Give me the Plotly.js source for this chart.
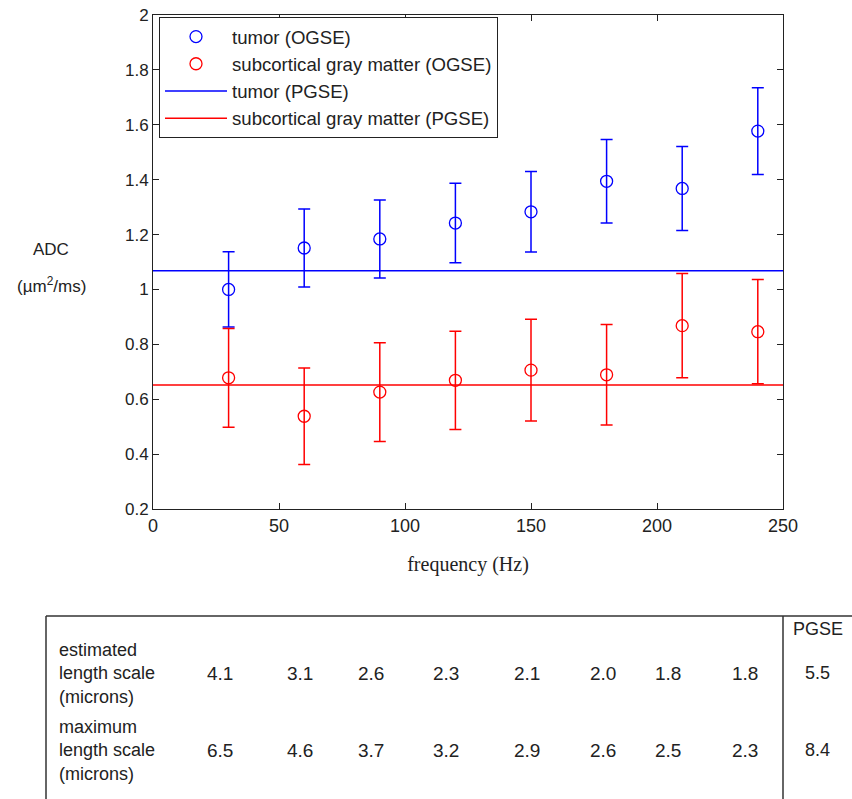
<!DOCTYPE html>
<html>
<head>
<meta charset="utf-8">
<script src="https://cdn.plot.ly/plotly-3.0.1.min.js"></script>
<style>
  html, body { margin: 0; padding: 0; background: #fff; }
  #chart { width: 852px; height: 799px; }
</style>
</head>
<body>
<div id="chart"></div>
<script>
// ---- data ----
const frequency = [30, 60, 90, 120, 150, 180, 210, 240];
const tumorADC  = [1.000, 1.151, 1.184, 1.242, 1.283, 1.394, 1.368, 1.577];
const tumorErr  = [0.137, 0.142, 0.142, 0.145, 0.147, 0.152, 0.153, 0.158];
const grayADC   = [0.678, 0.538, 0.626, 0.669, 0.706, 0.689, 0.868, 0.846];
const grayErr   = [0.180, 0.176, 0.180, 0.179, 0.185, 0.183, 0.190, 0.190];
const tumorPGSE = 1.068;
const grayPGSE  = 0.652;
const xRange = [0, 250];
const yRange = [0.2, 2];
const xTicks = [0, 50, 100, 150, 200, 250];
const yTicks = [0.2, 0.4, 0.6, 0.8, 1, 1.2, 1.4, 1.6, 1.8, 2];
const yTickText = ['0.2', '0.4', '0.6', '0.8', '1', '1.2', '1.4', '1.6', '1.8', '2'];
const seriesNames = ['tumor (OGSE)', 'subcortical gray matter (OGSE)', 'tumor (PGSE)', 'subcortical gray matter (PGSE)'];

// table under the chart
const estimatedLength = [4.1, 3.1, 2.6, 2.3, 2.1, 2.0, 1.8, 1.8];
const maximumLength   = [6.5, 4.6, 3.7, 3.2, 2.9, 2.6, 2.5, 2.3];
const pgseEstimated = 5.5;
const pgseMaximum = 8.4;
const rowLabels = ['estimated<br>length scale<br>(microns)', 'maximum<br>length scale<br>(microns)'];
const pgseHeader = 'PGSE';

// ---- layout geometry (pixels) ----
const W = 852, H = 799;
const L = 153, R = 783, T = 15, B = 509;
const px = v => (v - L) / (R - L);
const py = v => (B - v) / (B - T);
const colX = [220, 300, 371, 446, 527, 603, 668, 745];
const pgseColX = 817;
const rowY = [673, 750];

const BLUE = 'rgb(0,0,255)';
const RED = 'rgb(255,0,0)';
const INK = '#222';
const SANS = 'Liberation Sans, Arial, sans-serif';

const traces = [
  {
    x: frequency, y: tumorADC, name: seriesNames[0], type: 'scatter', mode: 'markers',
    marker: { symbol: 'circle-open', size: 12, color: BLUE, line: { width: 1.3, color: BLUE } },
    error_y: { type: 'data', array: tumorErr, visible: true, color: BLUE, thickness: 1.5, width: 6 }
  },
  {
    x: frequency, y: grayADC, name: seriesNames[1], type: 'scatter', mode: 'markers',
    marker: { symbol: 'circle-open', size: 12, color: RED, line: { width: 1.3, color: RED } },
    error_y: { type: 'data', array: grayErr, visible: true, color: RED, thickness: 1.5, width: 6 }
  },
  {
    x: xRange, y: [tumorPGSE, tumorPGSE], name: seriesNames[2], type: 'scatter', mode: 'lines',
    line: { color: BLUE, width: 1.5 }
  },
  {
    x: xRange, y: [grayPGSE, grayPGSE], name: seriesNames[3], type: 'scatter', mode: 'lines',
    line: { color: RED, width: 1.5 }
  }
];

const annotations = [];
// y-axis label (horizontal, two lines)
annotations.push({ xref: 'paper', yref: 'paper', x: px(51), y: py(249), xanchor: 'center', yanchor: 'middle',
  text: 'ADC', showarrow: false, font: { family: SANS, size: 17, color: INK } });
annotations.push({ xref: 'paper', yref: 'paper', x: px(52), y: py(285), xanchor: 'center', yanchor: 'middle',
  text: '(µm<sup>2</sup>/ms)', showarrow: false, font: { family: SANS, size: 17, color: INK } });

// table
rowLabels.forEach((t, i) => {
  annotations.push({ xref: 'paper', yref: 'paper', x: px(57), y: py(rowY[i]), xanchor: 'left', yanchor: 'middle',
    align: 'left', text: t, showarrow: false, font: { family: SANS, size: 18, color: INK } });
});
[estimatedLength, maximumLength].forEach((arr, i) => {
  arr.forEach((v, j) => {
    annotations.push({ xref: 'paper', yref: 'paper', x: px(colX[j]), y: py(rowY[i]), xanchor: 'center', yanchor: 'middle',
      text: v.toFixed(1), showarrow: false, font: { family: SANS, size: 19, color: INK } });
  });
});
[pgseEstimated, pgseMaximum].forEach((v, i) => {
  annotations.push({ xref: 'paper', yref: 'paper', x: px(pgseColX), y: py(rowY[i]), xanchor: 'center', yanchor: 'middle',
    text: v.toFixed(1), showarrow: false, font: { family: SANS, size: 18, color: INK } });
});
annotations.push({ xref: 'paper', yref: 'paper', x: px(818), y: py(629), xanchor: 'center', yanchor: 'middle',
  text: pgseHeader, showarrow: false, font: { family: SANS, size: 18, color: INK } });

const lineStyle = { color: '#333', width: 1.5 };
const shapes = [
  { type: 'line', xref: 'paper', yref: 'paper', x0: px(46), x1: px(W + 5), y0: py(616), y1: py(616), line: lineStyle },
  { type: 'line', xref: 'paper', yref: 'paper', x0: px(46), x1: px(46), y0: py(616), y1: py(H + 5), line: lineStyle },
  { type: 'line', xref: 'paper', yref: 'paper', x0: px(783), x1: px(783), y0: py(616), y1: py(H + 5), line: lineStyle }
];

const layout = {
  width: W, height: H,
  margin: { l: L, r: W - R, t: T, b: H - B, pad: 0 },
  paper_bgcolor: '#fff', plot_bgcolor: '#fff',
  showlegend: true,
  legend: {
    x: px(159), y: py(17), xanchor: 'left', yanchor: 'top',
    bgcolor: '#fff', bordercolor: INK, borderwidth: 1,
    font: { family: SANS, size: 18.6, color: INK },
    itemwidth: 62, traceorder: 'normal'
  },
  xaxis: {
    range: xRange, tickvals: xTicks, ticktext: xTicks.map(String),
    ticks: 'inside', ticklen: 6, tickwidth: 1, tickcolor: INK,
    showline: true, linecolor: INK, linewidth: 1, mirror: 'ticks',
    showgrid: false, zeroline: false,
    tickfont: { family: SANS, size: 18, color: INK },
    title: { text: 'frequency (Hz)', standoff: 22,
      font: { family: 'Liberation Serif, Times New Roman, serif', size: 20, color: INK } },
    automargin: false
  },
  yaxis: {
    range: yRange, tickvals: yTicks, ticktext: yTickText,
    ticks: 'inside', ticklen: 6, tickwidth: 1, tickcolor: INK,
    showline: true, linecolor: INK, linewidth: 1, mirror: 'ticks',
    showgrid: false, zeroline: false,
    tickfont: { family: SANS, size: 17, color: INK },
    automargin: false
  },
  annotations: annotations,
  shapes: shapes
};

Plotly.newPlot('chart', traces, layout, { displayModeBar: false, staticPlot: true });
</script>
</body>
</html>
